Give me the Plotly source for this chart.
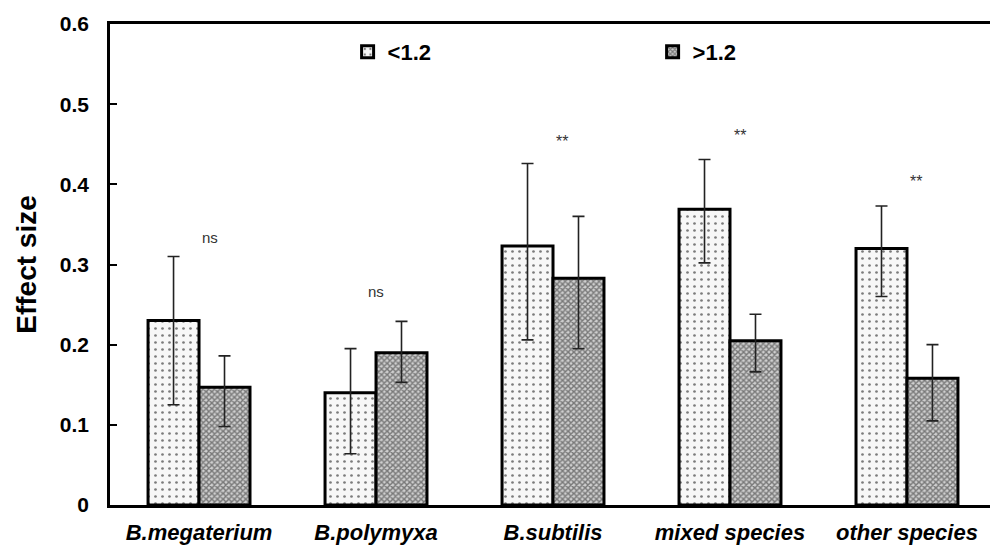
import plotly.graph_objects as go

categories = ["B.megaterium", "B.polymyxa", "B.subtilis", "mixed species", "other species"]

lt_vals = [0.230, 0.140, 0.323, 0.369, 0.320]
lt_err_up = [0.080, 0.055, 0.103, 0.062, 0.053]
lt_err_down = [0.105, 0.076, 0.117, 0.067, 0.060]

gt_vals = [0.147, 0.190, 0.283, 0.205, 0.158]
gt_err_up = [0.039, 0.039, 0.077, 0.033, 0.042]
gt_err_down = [0.049, 0.037, 0.088, 0.039, 0.053]

sig_labels = ["ns", "ns", "**", "**", "**"]
sig_y = [0.334, 0.266, 0.453, 0.461, 0.403]
sig_shift = [11, 0, 9, 10, 9]

y_ticks = [0, 0.1, 0.2, 0.3, 0.4, 0.5, 0.6]
y_ticktext = ["0", "0.1", "0.2", "0.3", "0.4", "0.5", "0.6"]

FONT = "Liberation Sans, Arial"

fig = go.Figure()
fig.add_trace(go.Bar(
    name="<1.2", x=categories, y=lt_vals,
    marker=dict(color="#f7f7f7", line=dict(color="black", width=3),
                pattern=dict(shape=".", fgcolor="black", bgcolor="#f7f7f7", size=7, solidity=0.12)),
    error_y=dict(type="data", symmetric=False, array=lt_err_up, arrayminus=lt_err_down,
                 color="#222", thickness=1.6, width=6),
))
fig.add_trace(go.Bar(
    name=">1.2", x=categories, y=gt_vals,
    marker=dict(color="#777", line=dict(color="black", width=3),
                pattern=dict(shape="x", fgcolor="#222", bgcolor="#cfcfcf", size=4, solidity=0.6)),
    error_y=dict(type="data", symmetric=False, array=gt_err_up, arrayminus=gt_err_down,
                 color="#222", thickness=1.6, width=6),
))

for c, t, yv, sh in zip(categories, sig_labels, sig_y, sig_shift):
    fig.add_annotation(x=c, y=yv, text=t, showarrow=False, xshift=sh,
                       font=dict(family=FONT, size=16 if t == "**" else 15, color="#333"))

fig.update_layout(
    width=990, height=547,
    margin=dict(l=110, r=0, t=24, b=42),
    paper_bgcolor="white", plot_bgcolor="white",
    barmode="group", bargap=0.424, bargroupgap=0,
    showlegend=True,
    legend=dict(orientation="h", x=0.270, xanchor="left", y=0.942, yanchor="middle",
                entrywidth=260, entrywidthmode="pixels",
                font=dict(family=FONT, size=22, color="black", weight="bold"),
                bgcolor="rgba(0,0,0,0)"),
    font=dict(family=FONT, color="black"),
)
fig.update_xaxes(
    range=[-0.503, 4.469], showline=True, linecolor="black", linewidth=2.5, mirror=True,
    ticks="", showgrid=False, zeroline=False, ticklabelstandoff=6,
    tickfont=dict(family=FONT, size=22, color="black", weight="bold", style="italic"),
)
fig.update_yaxes(
    range=[0, 0.6], tickvals=y_ticks, ticktext=y_ticktext,
    showline=True, linecolor="black", linewidth=2.5, mirror=False,
    ticks="inside", ticklen=7, tickwidth=2, tickcolor="black",
    showgrid=False, zeroline=False, ticklabelstandoff=14,
    tickfont=dict(family=FONT, size=21, color="black", weight="bold"),
    title=dict(text="Effect size", standoff=16,
               font=dict(family=FONT, size=28, color="black", weight="bold")),
)

fig.write_html("out.html")
